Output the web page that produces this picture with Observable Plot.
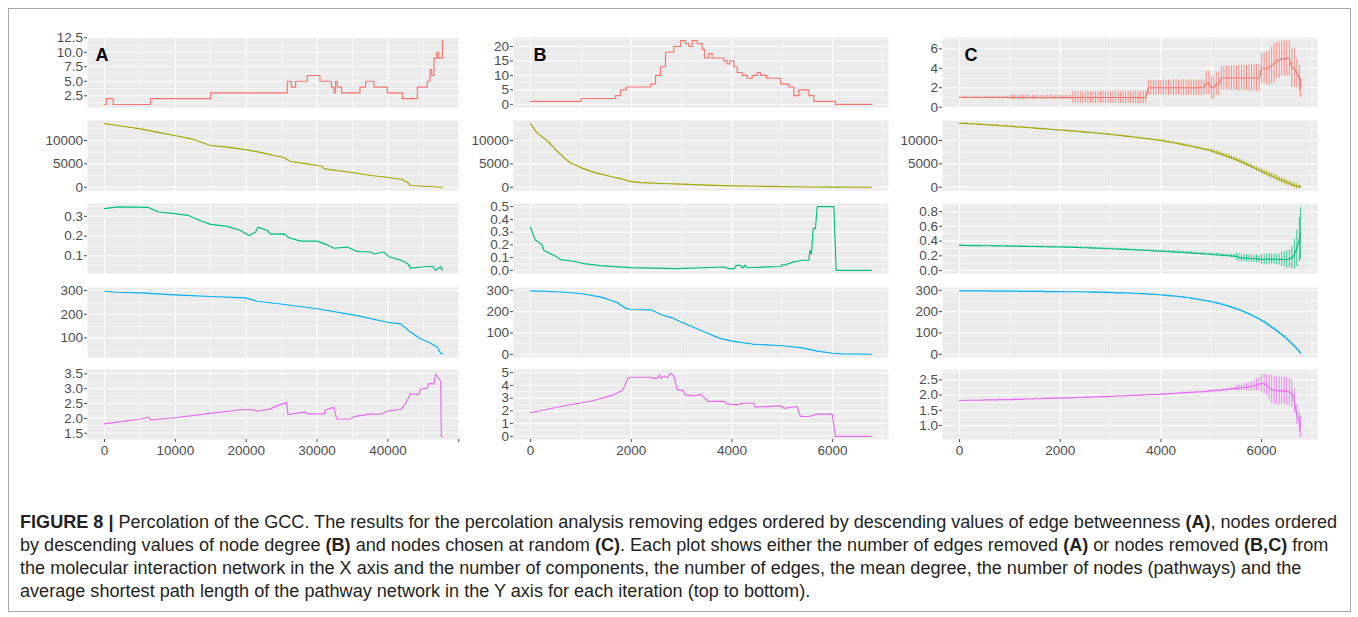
<!DOCTYPE html>
<html><head><meta charset="utf-8">
<script src="https://cdn.jsdelivr.net/npm/d3@7"></script>
<script src="https://cdn.jsdelivr.net/npm/@observablehq/plot@0.6"></script>
<style>
html,body{margin:0;padding:0;background:#fff;}
#fig{position:relative;width:1358px;height:617px;overflow:hidden;font-family:"Liberation Sans",Arial,Helvetica,sans-serif;}
#frame{position:absolute;left:8px;top:8px;width:1343px;height:604px;border:1px solid #a8a8a8;box-sizing:border-box;}
.panel{position:absolute;}
#caption{position:absolute;left:20px;top:511px;font-size:16px;line-height:23px;color:#231f20;white-space:nowrap;}
#caption b{font-weight:bold;}
</style></head><body>
<div id="fig"><div id="frame"></div>
<div id="caption">
<div id="cap1"><b>FIGURE 8 |</b> Percolation of the GCC. The results for the percolation analysis removing edges ordered by descending values of edge betweenness <b>(A)</b>, nodes ordered</div>
<div>by descending values of node degree <b>(B)</b> and nodes chosen at random <b>(C)</b>. Each plot shows either the number of edges removed <b>(A)</b> or nodes removed <b>(B,C)</b> from</div>
<div>the molecular interaction network in the X axis and the number of components, the number of edges, the mean degree, the number of nodes (pathways) and the</div>
<div>average shortest path length of the pathway network in the Y axis for each iteration (top to bottom).</div>
</div>
</div>
<script>
// ---------- DATA ----------
// Column A: edges removed by descending edge betweenness
const aCompX = [0,250,1224,6495,14967,25793,26358,26970,28617,30405,32006,32382,32617,32853,33464,36053,36850,38027,39910,42028,44146,45558,45935,46170,46500,46876,47111,47676,47700];
const aCompY = [1,2,1,2,3,5,4,5,6,5,4,3,5,4,3,4,5,4,3,2,4,5,7,6,9,10,9,12,12];
const aEdgeX = [0,2824,5083,7437,9884,12237,14967,17320,20140,22967,23908,25320,26264,28617,30029,30735,30970,34735,37559,39910,42028,42734,43205,47700];
const aEdgeY = [13600,13000,12500,11780,11070,10360,8930,8570,8000,7140,6790,6360,5500,5000,4650,4500,3940,3210,2500,2140,1650,1070,360,0];
const aDegX = [0,1883,6213,7625,9884,11766,13648,14967,17320,19203,20380,21320,21650,22967,23440,25323,26028,27675,30029,31441,32382,34264,35676,37559,38027,39440,40146,41793,42734,43205,45088,46264,46735,47440,47550,47700];
const aDegY = [0.339,0.348,0.345,0.322,0.314,0.305,0.276,0.259,0.249,0.228,0.203,0.22,0.245,0.228,0.21,0.211,0.191,0.174,0.174,0.155,0.138,0.144,0.122,0.119,0.109,0.119,0.095,0.078,0.061,0.037,0.044,0.047,0.027,0.044,0.033,0.028];
const aNodeX = [0,1600,5083,9884,14967,19910,21556,24850,30029,35676,39910,41793,43205,44617,46029,46970,47440,47700];
const aNodeY = [297,293,290,282,275,269,255,243,223,194,166,159,124,96,77,60,35,32];
const aPathX = [0,5083,6260,6495,9884,14967,19203,20615,21556,23440,24380,25700,25900,28146,28852,30970,31206,32382,32759,34735,35206,37559,38735,40146,41793,42499,43205,44382,44617,45558,45793,46500,46735,46970,47440,47534,47700];
const aPathY = [1.815,1.98,2.04,1.95,2.02,2.17,2.29,2.3,2.24,2.32,2.43,2.53,2.13,2.21,2.15,2.15,2.29,2.37,1.98,1.98,2.06,2.15,2.13,2.26,2.29,2.51,2.83,2.81,2.99,3.02,3.18,3.16,3.5,3.41,3.25,1.39,1.39];

// Column B: nodes removed by descending node degree
const bCompX = [0,1006,1688,1787,1903,2386,2483,2582,2681,2847,2979,3078,3144,3210,3310,3409,3455,3541,3607,3839,3905,3958,4038,4104,4204,4303,4402,4501,4568,4687,4965,5130,5230,5329,5528,5627,6057,6772];
const bCompY = [1,2,3,5,6,7,10,13,18,20,22,21,20,22,21,19,16,17.5,16,15,14,15,13,11,10,9,10,11,10,9,7,6,3,5,3,1,0,0];
const bEdgeX = [0,50,100,200,300,400,500,600,700,800,1000,1200,1400,1600,1800,2000,2200,2600,3000,3500,4000,4500,5000,5500,6000,6772];
const bEdgeY = [13600,12800,12000,11000,10200,9200,8000,7000,6000,5200,4200,3400,2800,2300,1800,1200,1000,800,650,450,300,200,120,50,10,0];
const bDegX = [0,66,99,166,232,265,364,497,596,861,1059,1390,1986,2913,3840,3939,4038,4091,4170,4204,4270,4290,4965,4998,5031,5230,5395,5528,5547,5580,5614,5660,5693,6024,6071,6772];
const bDegY = [0.337,0.268,0.237,0.22,0.197,0.158,0.137,0.11,0.084,0.071,0.053,0.037,0.021,0.013,0.026,0.013,0.013,0.039,0.039,0.018,0.04,0.02,0.03,0.046,0.04,0.066,0.079,0.079,0.158,0.126,0.329,0.329,0.5,0.5,0,0];
const bNodeX = [0,200,600,1000,1400,1700,1900,2000,2400,2600,2800,3000,3200,3400,3600,3800,4000,4400,5000,5400,5700,6000,6200,6772];
const bNodeY = [297,296,292,285,268,245,215,210,208,185,172,150,130,110,90,72,62,48,40,30,15,5,2,0];
const bPathX = [0,596,1258,1655,1820,1866,1920,1986,2383,2449,2515,2562,2595,2661,2714,2780,2846,2913,3012,3078,3244,3376,3541,3839,3905,4104,4204,4435,4468,4965,5031,5296,5329,5362,5528,5693,5991,6057,6772];
const bPathY = [1.85,2.34,2.81,3.26,3.6,3.9,4.48,4.64,4.64,4.55,4.55,4.82,4.55,4.75,4.6,4.95,4.75,3.65,3.65,3.26,3.18,3.3,2.74,2.74,2.55,2.47,2.6,2.6,2.29,2.39,2.2,2.34,1.95,1.56,1.56,1.74,1.74,0,0];

// Column C: nodes chosen at random (mean and sd of repeated runs), one row of 10 per 500 nodes
const cX = [0,50,100,150,200,250,300,350,400,450, 500,550,600,650,700,750,800,850,900,950,
 1000,1050,1100,1150,1200,1250,1300,1350,1400,1450, 1500,1550,1600,1650,1700,1750,1800,1850,1900,1950,
 2000,2050,2100,2150,2200,2250,2300,2350,2400,2450, 2500,2550,2600,2650,2700,2750,2800,2850,2900,2950,
 3000,3050,3100,3150,3200,3250,3300,3350,3400,3450, 3500,3550,3600,3650,3700,3750,3800,3850,3900,3950,
 4000,4050,4100,4150,4200,4250,4300,4350,4400,4450, 4500,4550,4600,4650,4700,4750,4800,4850,4900,4950,
 5000,5050,5100,5150,5200,5250,5300,5350,5400,5450, 5500,5550,5600,5650,5700,5750,5800,5850,5900,5950,
 6000,6050,6100,6150,6200,6250,6300,6350,6400,6450, 6500,6550,6600,6650,6700,6750,6770];
const cCompMean = [1,1,1,1,1,1,1,1,1,1, 1,1,1,1,1,1,1,1,1,1,
 1,1,1,1,1,1,1,1,1,1, 1,1,1,1,1,1,1,1,1,1,
 1,1,1,1,1,1,1,1,1,1, 1,1,1,1,1,1,1,1,1,1,
 1,1,1,1,1,1,1,1,1,1, 1,1,1,1,1,2,2,2,2,2,
 2,2,2,2,2,2,2,2,2,2, 2,2,2,2,2,2,2,2,2.5,2.5,
 2,2,2.4,2.4,3,3,3,3,3,3, 3,3,3,3,3,3,3,3,3,3,
 4,4,4,4,4.3,4.5,4.8,4.8,5,5, 5,5,4,4,3.5,3,2];
const cCompSd = [0.05,0.1,0.1,0.1,0.1,0.1,0.1,0.1,0.1,0.1, 0.1,0.1,0.1,0.1,0.1,0.1,0.1,0.1,0.1,0.1,
 0.22,0.22,0.22,0.22,0.22,0.22,0.22,0.22,0.22,0.22, 0.22,0.22,0.22,0.22,0.22,0.22,0.22,0.22,0.22,0.22,
 0.22,0.22,0.22,0.22,0.22,0.6,0.6,0.6,0.6,0.6, 0.6,0.6,0.6,0.6,0.6,0.6,0.6,0.6,0.6,0.6,
 0.6,0.62,0.6,0.62,0.6,0.62,0.62,0.6,0.62,0.62, 0.65,0.65,0.6,0.65,0.65,0.75,0.75,0.75,0.75,0.75,
 0.75,0.8,0.75,0.8,0.75,0.8,0.8,0.75,0.8,0.8, 0.8,0.8,0.8,0.8,0.8,0.8,0.8,0.8,1.2,1.2,
 1.2,1.2,1.2,1.2,1.2,1.2,1.2,1.2,1.25,1.25, 1.25,1.3,1.3,1.3,1.3,1.35,1.35,1.35,1.4,1.4,
 1.6,1.6,1.7,1.8,1.9,2.0,1.9,1.9,1.8,1.8, 1.8,1.8,2.0,2.0,1.5,1.3,1.0];
const cEdgeMean = [13700,13675,13650,13615,13585,13560,13530,13495,13460,13430, 13405,13370,13330,13300,13265,13225,13190,13160,13125,13085,
 13050,13010,12965,12930,12895,12850,12805,12770,12735,12690, 12650,12610,12575,12530,12485,12450,12410,12365,12320,12285,
 12250,12200,12155,12115,12075,12025,11975,11935,11895,11845, 11800,11755,11705,11650,11595,11550,11505,11450,11395,11350,
 11300,11240,11175,11120,11065,11000,10935,10880,10825,10760, 10700,10630,10555,10490,10425,10350,10275,10210,10145,10070,
 10000,9905,9805,9715,9625,9520,9415,9315,9215,9105, 8995,8885,8775,8650,8525,8410,8295,8170,8045,7925,
 7800,7620,7435,7255,7075,6880,6685,6495,6305,6100, 5895,5660,5425,5175,4925,4680,4435,4175,3915,3660,
 3400,3160,2925,2680,2435,2200,1965,1720,1475,1240, 1005,800,595,400,205,100,30];
const cEdgeSd = [60,60,60,60,60,60,60,60,60,60, 60,60,60,60,60,60,60,60,60,60,
 60,60,60,60,60,60,60,60,60,60, 60,60,60,60,60,60,60,60,60,60,
 120,120,120,120,120,120,120,120,120,120, 120,120,120,120,120,120,120,120,120,120,
 120,120,120,120,120,120,120,120,120,120, 120,120,120,120,120,120,120,120,120,120,
 250,250,250,250,250,250,250,250,250,250, 250,250,250,250,250,250,250,250,250,250,
 450,450,450,450,450,450,450,450,450,450, 450,450,450,450,450,450,450,450,450,450,
 600,600,600,600,600,600,600,600,600,600, 600,600,600,600,600,400,100];
const cDegMean = [0.341,0.341,0.340,0.340,0.339,0.339,0.339,0.338,0.338,0.337, 0.337,0.336,0.336,0.335,0.335,0.334,0.334,0.333,0.333,0.332,
 0.332,0.331,0.331,0.330,0.329,0.329,0.328,0.327,0.327,0.326, 0.326,0.325,0.324,0.324,0.323,0.322,0.322,0.321,0.321,0.320,
 0.320,0.319,0.318,0.317,0.316,0.315,0.314,0.313,0.312,0.310, 0.309,0.308,0.307,0.305,0.304,0.303,0.302,0.300,0.299,0.297,
 0.296,0.294,0.293,0.291,0.290,0.288,0.287,0.285,0.284,0.282, 0.281,0.279,0.277,0.276,0.274,0.272,0.270,0.268,0.266,0.264,
 0.262,0.260,0.259,0.257,0.255,0.253,0.251,0.249,0.247,0.245, 0.243,0.241,0.239,0.236,0.234,0.231,0.229,0.226,0.224,0.221,
 0.219,0.216,0.214,0.211,0.209,0.206,0.204,0.201,0.199,0.195, 0.190,0.180,0.172,0.170,0.168,0.165,0.163,0.160,0.158,0.155,
 0.152,0.150,0.153,0.155,0.156,0.153,0.151,0.150,0.153,0.151, 0.150,0.158,0.172,0.220,0.300,0.420,0.500];
const cDegSd = [0.006,0.006,0.006,0.006,0.006,0.006,0.006,0.006,0.006,0.006, 0.006,0.006,0.006,0.006,0.006,0.006,0.006,0.006,0.006,0.006,
 0.006,0.006,0.006,0.006,0.006,0.006,0.006,0.006,0.006,0.006, 0.006,0.006,0.006,0.006,0.006,0.006,0.006,0.006,0.006,0.006,
 0.01,0.01,0.01,0.01,0.01,0.01,0.01,0.01,0.01,0.01, 0.01,0.01,0.01,0.01,0.01,0.01,0.01,0.01,0.01,0.01,
 0.01,0.01,0.01,0.01,0.01,0.01,0.01,0.01,0.01,0.01, 0.01,0.01,0.01,0.01,0.01,0.01,0.01,0.01,0.01,0.01,
 0.015,0.015,0.015,0.015,0.015,0.015,0.015,0.015,0.015,0.015, 0.015,0.015,0.015,0.015,0.015,0.015,0.015,0.015,0.015,0.015,
 0.02,0.02,0.02,0.02,0.02,0.02,0.02,0.02,0.02,0.02, 0.05,0.05,0.05,0.05,0.05,0.05,0.05,0.05,0.05,0.05,
 0.07,0.07,0.07,0.07,0.07,0.07,0.07,0.07,0.1,0.1, 0.12,0.12,0.15,0.2,0.25,0.3,0.35];
const cNodeMean = [297,297,297,297,297,297,297,297,297,297, 297,297,296,296,296,296,296,296,296,296,
 296,296,296,296,295,295,295,295,295,295, 295,295,295,295,294,294,294,294,294,294,
 294,294,293,293,293,293,293,293,292,292, 292,292,291,291,291,291,290,290,290,290,
 289,289,288,288,288,288,287,287,286,286, 285,285,284,284,283,282,281,281,280,279,
 278,277,276,275,274,273,272,271,269,268, 266,265,263,261,259,257,255,253,251,249,
 246,244,241,238,235,232,228,225,221,217, 213,209,204,199,194,189,183,177,171,165,
 158,151,143,135,127,119,110,101,92,82, 72,61,50,38,25,13,5];
const cNodeSd = [1,1,1,1,1,1,1,1,1,1, 1,1,1,1,1,1,1,1,1,1,
 1,1,1,1,1,1,1,1,1,1, 1,1,1,1,1,1,1,1,1,1,
 1.5,1.5,1.5,1.5,1.5,1.5,1.5,1.5,1.5,1.5, 1.5,1.5,1.5,1.5,1.5,1.5,1.5,1.5,1.5,1.5,
 1.5,1.5,1.5,1.5,1.5,1.5,1.5,1.5,1.5,1.5, 1.5,1.5,1.5,1.5,1.5,1.5,1.5,1.5,1.5,1.5,
 2,2,2,2,2,2,2,2,2,2, 2,2,2,2,2,2,2,2,2,2,
 4,4,4,4,4,4,4,4,4,4, 4,4,4,4,4,4,4,4,4,4,
 6,6,6,6,6,6,6,6,6,6, 6,6,6,6,6,5,4];
const cPathMean = [1.82,1.82,1.82,1.82,1.83,1.83,1.83,1.83,1.83,1.83, 1.84,1.84,1.84,1.84,1.84,1.84,1.85,1.85,1.85,1.85,
 1.85,1.85,1.86,1.86,1.86,1.86,1.87,1.87,1.87,1.87, 1.88,1.88,1.88,1.88,1.89,1.89,1.89,1.89,1.90,1.90,
 1.90,1.90,1.91,1.91,1.91,1.91,1.92,1.92,1.92,1.92, 1.93,1.93,1.93,1.93,1.94,1.94,1.95,1.95,1.95,1.95,
 1.96,1.96,1.97,1.97,1.97,1.97,1.98,1.98,1.99,1.99, 1.99,1.99,2.00,2.00,2.01,2.01,2.02,2.02,2.02,2.02,
 2.03,2.03,2.04,2.04,2.05,2.05,2.06,2.06,2.07,2.07, 2.08,2.08,2.09,2.09,2.10,2.10,2.11,2.11,2.12,2.13,
 2.14,2.14,2.15,2.15,2.16,2.17,2.18,2.19,2.20,2.21, 2.22,2.23,2.24,2.25,2.26,2.27,2.29,2.31,2.33,2.36,
 2.38,2.37,2.32,2.25,2.18,2.15,2.14,2.14,2.14,2.14, 2.12,2.10,2.05,1.80,1.35,1.10,0.95];
const cPathSd = [0.01,0.01,0.01,0.01,0.01,0.01,0.01,0.01,0.01,0.01, 0.01,0.01,0.01,0.01,0.01,0.01,0.01,0.01,0.01,0.01,
 0.01,0.01,0.01,0.01,0.01,0.01,0.01,0.01,0.01,0.01, 0.01,0.01,0.01,0.01,0.01,0.01,0.01,0.01,0.01,0.01,
 0.01,0.01,0.01,0.01,0.01,0.01,0.01,0.01,0.01,0.01, 0.01,0.01,0.01,0.01,0.01,0.01,0.01,0.01,0.01,0.01,
 0.01,0.01,0.01,0.01,0.01,0.01,0.01,0.01,0.01,0.01, 0.01,0.01,0.01,0.01,0.01,0.01,0.01,0.01,0.01,0.01,
 0.02,0.02,0.02,0.02,0.02,0.02,0.02,0.02,0.02,0.02, 0.02,0.02,0.02,0.02,0.02,0.02,0.02,0.02,0.02,0.02,
 0.04,0.04,0.04,0.04,0.04,0.04,0.04,0.04,0.04,0.04, 0.08,0.09,0.1,0.11,0.12,0.14,0.15,0.17,0.2,0.22,
 0.3,0.33,0.35,0.4,0.45,0.45,0.45,0.45,0.45,0.45, 0.45,0.45,0.45,0.4,0.33,0.33,0.35];

// Axis breaks (tick labels)
const xTicksA = [0,10000,20000,30000,40000,50000];
const xLabelsA = [0,10000,20000,30000,40000];
const xTicksBC = [0,2000,4000,6000];
const yTicks = {
  A: [[2.5,5,7.5,10,12.5],[0,5000,10000],[0.1,0.2,0.3],[100,200,300],[1.5,2,2.5,3,3.5]],
  B: [[0,5,10,15,20],[0,5000,10000],[0,0.1,0.2,0.3,0.4,0.5],[0,100,200,300],[0,1,2,3,4,5]],
  C: [[0,2,4,6],[0,5000,10000],[0,0.2,0.4,0.6,0.8],[0,100,200,300],[1,1.5,2,2.5]]
};
const yFormats = {A:[".1f","d",".1f","d",".1f"], B:["d","d",".1f","d","d"], C:["d","d",".1f","d",".1f"]};
const yDomains = {
  A: [[0.48,12.55],[-700,14280],[0.01,0.365],[17,313],[1.29,3.645]],
  B: [[-1.1,23.1],[-700,14280],[-0.025,0.525],[-15,313],[-0.25,5.25]],
  C: [[-0.03,7.16],[-700,14280],[-0.04,0.91],[-15,313],[0.54,2.84]]
};
const seriesColors = ["#F8766D","#A3A500","#00BF7D","#00B0F6","#E76BF3"];

// ---------- LAYOUT ----------
const FONT = '"Liberation Sans", Arial, Helvetica, sans-serif';
const rowTops = [37,120,203,287,369];
const PH = 70, ML = 60;
const columns = [
  {key:"A", left:87, width:372, xDomain:[-2400,50100], xMajor:xTicksA, xLabels:xLabelsA, labelDx:8,
   series:[{x:aCompX,y:aCompY,step:true},{x:aEdgeX,y:aEdgeY},{x:aDegX,y:aDegY},{x:aNodeX,y:aNodeY},{x:aPathX,y:aPathY}]},
  {key:"B", left:513, width:375, xDomain:[-338,7110], xMajor:xTicksBC, xLabels:xTicksBC, labelDx:20,
   series:[{x:bCompX,y:bCompY,step:true},{x:bEdgeX,y:bEdgeY},{x:bDegX,y:bDegY},{x:bNodeX,y:bNodeY},{x:bPathX,y:bPathY}]},
  {key:"C", left:942, width:375, xDomain:[-338,7110], xMajor:xTicksBC, xLabels:xTicksBC, labelDx:22,
   series:[{x:cX,y:cCompMean,sd:cCompSd},{x:cX,y:cEdgeMean,sd:cEdgeSd},{x:cX,y:cDegMean,sd:cDegSd},{x:cX,y:cNodeMean,sd:cNodeSd},{x:cX,y:cPathMean,sd:cPathSd}]}
];

function minorBreaks(major, domain) {
  const s = major[1] - major[0];
  const out = [];
  for (let k = -1; k <= major.length; k++) {
    const v = +(major[0] + s * k + s / 2).toFixed(6);
    if (v >= Math.min(...domain) && v <= Math.max(...domain)) out.push(v);
  }
  return out;
}

const fig = document.getElementById("fig");
columns.forEach((col) => {
  col.series.forEach((s, row) => {
    const isBottom = row === 4;
    const mb = isBottom ? 26 : 0;
    const yMajor = yTicks[col.key][row];
    const yDomain = yDomains[col.key][row];
    const color = seriesColors[row];
    const table = s.x.map((x, i) => ({x, y: s.y[i], lo: s.sd ? s.y[i] - s.sd[i] : null, hi: s.sd ? s.y[i] + s.sd[i] : null}));
    const grid = {stroke: "#ffffff", strokeOpacity: 1};
    const marks = [
      Plot.frame({fill: "#EBEBEB", stroke: "none"}),
      Plot.gridY({ticks: minorBreaks(yMajor, yDomain), ...grid, strokeWidth: 0.55}),
      Plot.gridX({ticks: minorBreaks(col.xMajor, col.xDomain), ...grid, strokeWidth: 0.55}),
      Plot.gridY({ticks: yMajor, ...grid, strokeWidth: 1.1}),
      Plot.gridX({ticks: col.xMajor, ...grid, strokeWidth: 1.1})
    ];
    if (s.sd) marks.push(Plot.ruleX(table, {x: "x", y1: "lo", y2: "hi", stroke: color, strokeWidth: 0.8, clip: true}));
    marks.push(Plot.line(table, {x: "x", y: "y", stroke: color, strokeWidth: 1.15, curve: s.step ? "step-after" : "linear", clip: true}));
    marks.push(Plot.axisY({ticks: yMajor, tickFormat: d3.format(yFormats[col.key][row]), tickSize: 3, tickPadding: 1.5, fontSize: 13.5, label: null}));
    if (isBottom) marks.push(Plot.axisX({ticks: col.xMajor, tickFormat: d => col.xLabels.includes(d) ? String(d) : "", tickSize: 3, tickPadding: 3, fontSize: 13.5, label: null}));
    if (row === 0) marks.push(Plot.text([col.key], {frameAnchor: "top-left", dx: col.labelDx, dy: 17.5, lineAnchor: "middle", textAnchor: "start", fontWeight: "bold", fontSize: 18, fill: "#000"}));
    const chart = Plot.plot({
      width: ML + col.width, height: PH + mb,
      marginLeft: ML, marginRight: 0, marginTop: 0, marginBottom: mb,
      x: isBottom ? {domain: col.xDomain, label: null} : {domain: col.xDomain, axis: null, label: null},
      y: {domain: yDomain, label: null},
      style: {background: "transparent", fontFamily: FONT, fontSize: "13.5px", color: "#4d4d4d", overflow: "visible"},
      marks
    });
    const wrap = document.createElement("div");
    wrap.className = "panel";
    wrap.style.left = (col.left - ML) + "px";
    wrap.style.top = rowTops[row] + "px";
    wrap.appendChild(chart);
    fig.appendChild(wrap);
  });
});

// fit caption font so the first line spans the reference width
const capEl = document.getElementById("caption");
capEl.style.display = "inline-block";
const natural = document.getElementById("cap1").getBoundingClientRect().width;
if (natural > 0) capEl.style.fontSize = (16 * 1317 / natural).toFixed(2) + "px";
</script>
</body></html>
